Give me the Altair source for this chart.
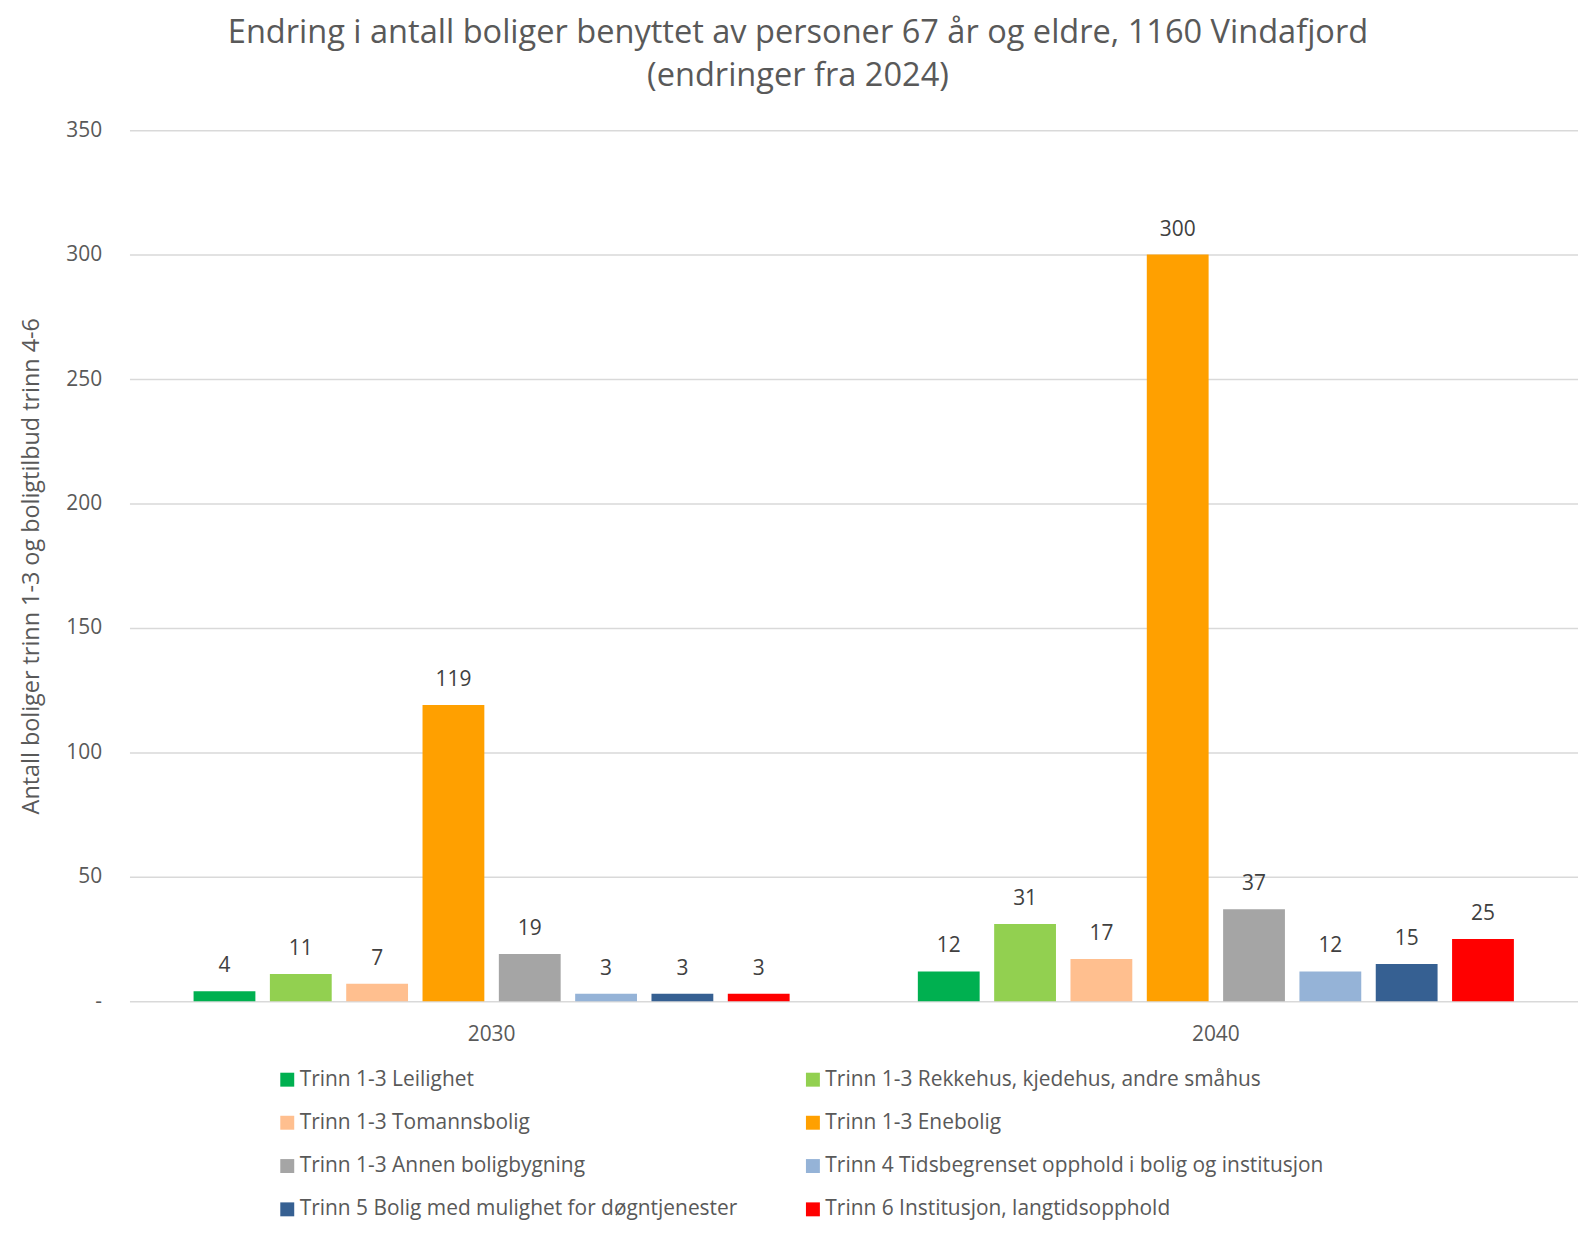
import altair as alt
import pandas as pd

years = ["2030", "2040"]
categories = [
    "Trinn 1-3 Leilighet",
    "Trinn 1-3 Rekkehus, kjedehus, andre småhus",
    "Trinn 1-3 Tomannsbolig",
    "Trinn 1-3 Enebolig",
    "Trinn 1-3 Annen boligbygning",
    "Trinn 4 Tidsbegrenset opphold i bolig og institusjon",
    "Trinn 5 Bolig med mulighet for døgntjenester",
    "Trinn 6 Institusjon, langtidsopphold",
]
values_2030 = [4, 11, 7, 119, 19, 3, 3, 3]
values_2040 = [12, 31, 17, 300, 37, 12, 15, 25]
colors = ["#00B050", "#92D050", "#FFBF8F", "#FFA000", "#A5A5A5", "#95B3D7", "#366092", "#FF0000"]

rows = []
for yr, vals in zip(years, [values_2030, values_2040]):
    for c, v in zip(categories, vals):
        rows.append({"year": yr, "cat": c, "value": v})
df = pd.DataFrame(rows)

FONT = "Open Sans"
GREY = "#595959"

base = alt.Chart(df).encode(
    x=alt.X(
        "year:N",
        sort=years,
        scale=alt.Scale(paddingInner=0, paddingOuter=0),
        axis=alt.Axis(
            title=None, labelAngle=0, domain=False, ticks=False,
            labelPadding=22, labelFontSize=21, labelColor=GREY, labelFont=FONT,
        ),
    ),
    xOffset=alt.XOffset(
        "cat:N", sort=categories,
        scale=alt.Scale(paddingInner=0.19, paddingOuter=0.84),
    ),
    y=alt.Y(
        "value:Q",
        scale=alt.Scale(domain=[0, 350], nice=False),
        axis=alt.Axis(
            title="Antall boliger trinn 1-3 og boligtilbud trinn 4-6",
            values=[0, 50, 100, 150, 200, 250, 300, 350],
            labelExpr="datum.value == 0 ? '-' : datum.label",
            domain=False, ticks=False, labelPadding=28,
            labelFontSize=21, labelColor=GREY, labelFont=FONT,
            gridColor="#D9D9D9", gridWidth=1.5,
            titleX=-98, titleY=437.5, titleAngle=-90, titleAlign="center",
            titleBaseline="middle", titleFontSize=23.5, titleFontWeight="normal",
            titleColor=GREY, titleFont=FONT,
        ),
    ),
)

bars = base.mark_bar().encode(
    color=alt.Color(
        "cat:N", sort=categories,
        scale=alt.Scale(domain=categories, range=colors),
        legend=alt.Legend(
            title=None, orient="none", legendX=148, legendY=943,
            direction="horizontal", columns=2, symbolType="square", symbolSize=196,
            symbolStrokeWidth=0, labelFontSize=21, labelColor=GREY,
            labelFont=FONT, labelOffset=2, rowPadding=21.5, columnPadding=65,
            labelLimit=1000,
        ),
    )
)

labels = base.mark_text(
    dy=-25, baseline="middle", fontSize=21, color="#404040", font=FONT
).encode(text="value:Q")

chart = (
    alt.layer(bars, labels)
    .properties(
        width=1455,
        height=875,
        padding={"left": 122, "top": 120, "right": 0, "bottom": 219},
        autosize=alt.AutoSizeParams(type="none"),
        title=alt.TitleParams(
            text=[
                "Endring i antall boliger benyttet av personer 67 år og eldre, 1160 Vindafjord",
                "(endringer fra 2024)",
            ],
            fontSize=32.7, fontWeight="normal", color=GREY, font=FONT,
            anchor="middle", dx=-56, offset=27, lineHeight=43,
        ),
    )
    .configure_view(stroke=None)
)

chart.save("out.html", embed_options={"renderer": "svg", "actions": False})
